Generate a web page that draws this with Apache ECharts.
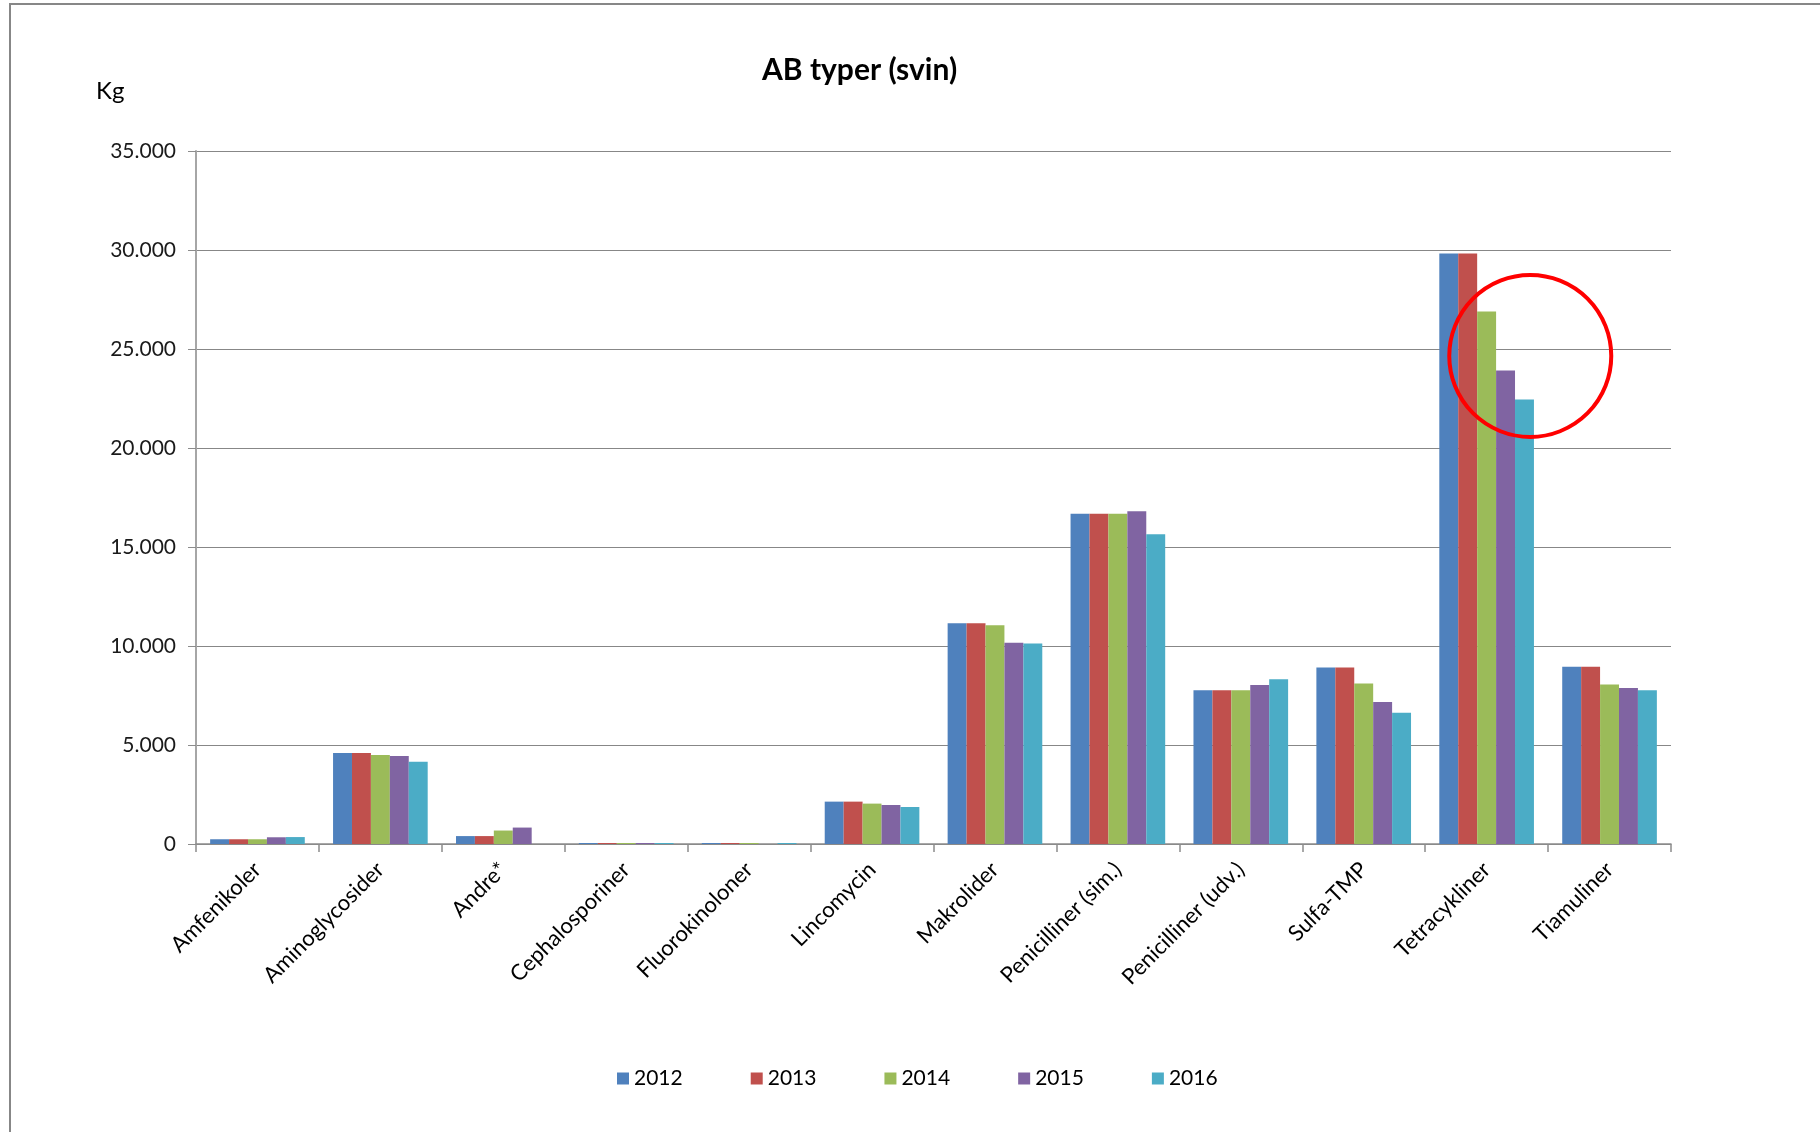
<!DOCTYPE html>
<html>
<head>
<meta charset="utf-8">
<script src="https://cdn.jsdelivr.net/npm/echarts@6/dist/echarts.min.js"></script>
<style>
  html, body { margin: 0; padding: 0; background: #fff; }
  #chart { width: 1820px; height: 1132px; }
</style>
</head>
<body>
<div id="chart"></div>
<script>
// kategorier (AB typer)
var categories = ['Amfenikoler', 'Aminoglycosider', 'Andre*', 'Cephalosporiner', 'Fluorokinoloner',
  'Lincomycin', 'Makrolider', 'Penicilliner (sim.)', 'Penicilliner (udv.)', 'Sulfa-TMP',
  'Tetracykliner', 'Tiamuliner'];
var years = ['2012', '2013', '2014', '2015', '2016'];

// kg pr. år
var kg2012 = [240, 4600, 400, 50, 50, 2140, 11150, 16680, 7760, 8910, 29820, 8950];
var kg2013 = [240, 4600, 400, 50, 50, 2140, 11150, 16680, 7760, 8910, 29820, 8950];
var kg2014 = [240, 4500, 680, 50, 50, 2040, 11050, 16680, 7760, 8100, 26890, 8060];
var kg2015 = [340, 4440, 830, 50, 0, 1970, 10170, 16800, 8030, 7170, 23920, 7880];
var kg2016 = [350, 4160, 0, 50, 50, 1870, 10120, 15640, 8320, 6630, 22450, 7760];

var yTicks = [0, 5000, 10000, 15000, 20000, 25000, 30000, 35000];
var colors = ['#4F81BD', '#C0504D', '#9BBB59', '#8064A2', '#4BACC6'];

var chart = echarts.init(document.getElementById('chart'));
var font = 'Lato, "Open Sans", sans-serif';

function fmt(v) {
  // tusindtalsseparator som punktum
  return String(v).replace(/\B(?=(\d{3})+(?!\d))/g, '.');
}

var allData = [kg2012, kg2013, kg2014, kg2015, kg2016];
var series = years.map(function (y, i) {
  return {
    name: y,
    type: 'bar',
    barGap: '0%',
    barCategoryGap: '23%',
    itemStyle: { color: colors[i] },
    data: allData[i]
  };
});

var frame = {
  type: 'rect',
  silent: true,
  shape: { x: 10, y: 4, width: 2000, height: 2000 },
  style: { fill: 'none', stroke: '#878787', lineWidth: 2 }
};

var option = {
  animation: false,
  backgroundColor: '#fff',
  textStyle: { fontFamily: font },
  title: [
    {
      text: 'AB typer (svin)',
      left: 762,
      top: 55,
      padding: 0,
      textStyle: { fontFamily: font, fontSize: 30, fontWeight: 'bold', color: '#000' }
    },
    {
      text: 'Kg',
      left: 96,
      top: 79,
      padding: 0,
      textStyle: { fontFamily: font, fontSize: 24, fontWeight: 'normal', color: '#000' }
    }
  ],
  legend: {
    data: years,
    left: 617,
    top: 1068,
    padding: 0,
    itemWidth: 12,
    itemHeight: 12,
    itemGap: 68,
    icon: 'rect',
    textStyle: { fontFamily: font, fontSize: 21, color: '#000' }
  },
  grid: {
    left: 196,
    right: 149,
    top: 151,
    bottom: 288
  },
  xAxis: {
    type: 'category',
    data: categories,
    axisLine: { lineStyle: { color: '#8C8C8C', width: 1.5 } },
    axisTick: { show: true, length: 8, lineStyle: { color: '#8C8C8C', width: 1.5 } },
    axisLabel: {
      rotate: 45,
      margin: 22,
      interval: 0,
      color: '#000',
      fontFamily: font,
      fontSize: 22
    }
  },
  yAxis: {
    type: 'value',
    min: 0,
    max: 35000,
    interval: 5000,
    axisLine: { show: true, lineStyle: { color: '#A6A6A6', width: 2 } },
    axisTick: { show: true, length: 8, lineStyle: { color: '#8C8C8C' } },
    splitLine: { lineStyle: { color: '#878787', width: 1.2 } },
    axisLabel: {
      margin: 20,
      color: '#1a1a1a',
      fontFamily: font,
      fontSize: 21,
      formatter: function (v) { return yTicks.indexOf(v) >= 0 ? fmt(v) : ''; }
    }
  },
  graphic: [frame],
  series: series
};

chart.setOption(option);

// rød ring omkring faldet i tetracykliner
var p = chart.convertToPixel({ gridIndex: 0 }, ['Tetracykliner', 24650]);
var catW = (1820 - 196 - 149) / categories.length;
chart.setOption({
  graphic: [
    frame,
    {
      type: 'circle',
      silent: true,
      z: 100,
      shape: { cx: p[0] + catW * 0.355, cy: p[1], r: 81 },
      style: { fill: 'none', stroke: '#FF0000', lineWidth: 4 }
    }
  ]
});
</script>
</body>
</html>
